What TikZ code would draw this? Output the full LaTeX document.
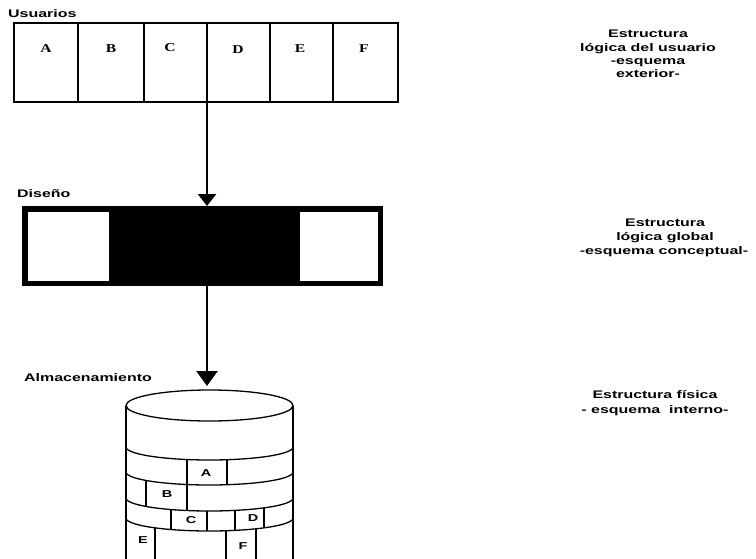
\documentclass[tikz,border=0pt]{standalone}
\usepackage{fontspec}
\usetikzlibrary{arrows.meta}
\newfontfamily\labfam[FakeStretch=1.45]{Liberation Sans}
\newfontfamily\letfam[FakeStretch=1.3]{Liberation Serif}

\tikzset{
  lab/.style={font=\labfam\bfseries\fontsize{11}{13}\selectfont, inner sep=0pt},
  ubox/.style={draw, line width=1.6pt, minimum height=79pt, inner sep=0pt, outer sep=0pt, anchor=north west},
  ulet/.style={font=\letfam\bfseries\fontsize{12}{14}\selectfont, inner sep=0pt},
  clet/.style={font=\labfam\bfseries\fontsize{10}{12}\selectfont, inner sep=0pt},
  plain/.style={inner sep=0pt, outer sep=0pt, anchor=north west},
  cyl/.style={line width=1.3pt},
  flowa/.style={line width=2.6pt, -{Triangle[length=12pt,width=18pt]}},
  flowb/.style={line width=2.6pt, -{Triangle[length=15pt,width=21pt]}},
}

% vertical separator inside a band of the disk: x, upper edge, lower edge
\newcommand\bandseg[3]{%
  \draw[cyl] (#1,{#2+13*sqrt(1-((#1-209.5)/83.5)^2)}) -- (#1,{#3+13*sqrt(1-((#1-209.5)/83.5)^2)});}

\begin{document}
\begin{tikzpicture}[x=1pt,y=-1pt]
\useasboundingbox (0,0) rectangle (756,558);
\clip (0,0) rectangle (756,558);

% ---- user level ----
\node[lab, anchor=base west] (tUsr) at (8,17) {Usuarios};
\node[ubox, minimum width=64pt] (uA) at (14,23) {};
\node[ubox, minimum width=66pt] (uB) at (78,23) {};
\node[ubox, minimum width=63pt] (uC) at (144,23) {};
\node[ubox, minimum width=63pt] (uD) at (207,23) {};
\node[ubox, minimum width=63pt] (uE) at (270,23) {};
\node[ubox, minimum width=65pt] (uF) at (333,23) {};
\node[ulet] (lA) at (46,49) {A};
\node[ulet] (lB) at (111,49) {B};
\node[ulet] (lC) at (170,48) {C};
\node[ulet] (lD) at (238,50) {D};
\node[ulet] (lE) at (300,49) {E};
\node[ulet] (lF) at (364,49) {F};

% ---- design level ----
\node[lab, anchor=base west] (tDis) at (17,197) {Diseño};
\node[plain, fill=black, minimum width=361pt, minimum height=80pt] (dis) at (22,206) {};
\node[plain, fill=white, minimum width=81pt, minimum height=69pt] (disL) at (28,212) {};
\node[plain, fill=white, minimum width=78pt, minimum height=69pt] (disR) at (300,212) {};

% ---- storage level ----
\node[lab, anchor=base west] (tAlm) at (24,381) {Almacenamiento};
\coordinate (cylTop) at (207,386);
\draw[cyl] (209.5,405.5) ellipse [x radius=83.5, y radius=15.5];
\draw[cyl] (126,405.5) -- (126,570) (293,405.5) -- (293,570);
\foreach \ey in {447,472,498,518}
  \draw[cyl] plot[domain=180:0, samples=60, smooth] ({209.5+83.5*cos(\x)}, {\ey+13*sin(\x)});
\bandseg{187}{447}{472} \bandseg{227}{447}{472}
\bandseg{146}{472}{498} \bandseg{187}{472}{498}
\bandseg{171}{498}{518} \bandseg{207}{498}{518} \bandseg{235}{498}{518} \bandseg{264}{498}{518}
\bandseg{155}{518}{570} \bandseg{226}{518}{570} \bandseg{256}{518}{570}
\node[clet] (cA) at (206,473) {A};
\node[clet] (cB) at (167,494) {B};
\node[clet] (cC) at (191,520) {C};
\node[clet] (cD) at (253,518) {D};
\node[clet] (cE) at (143,540) {E};
\node[clet] (cF) at (243,546) {F};

% ---- flow between levels ----
\draw[flowa] (uD.south west) -- (uD.south west |- dis.north);
\draw[flowb] (dis.south -| uD.south west) -- (cylTop);

% ---- descriptions ----
\node[lab, anchor=base] (r1a) at (648,37) {Estructura};
\node[lab, anchor=base] (r1b) at (648,51) {lógica del usuario};
\node[lab, anchor=base] (r1c) at (648,64) {-esquema};
\node[lab, anchor=base] (r1d) at (648,77) {exterior-};
\node[lab, anchor=base] (r2a) at (665,226) {Estructura};
\node[lab, anchor=base] (r2b) at (665,240) {lógica global};
\node[lab, anchor=base] (r2c) at (664,254) {-esquema conceptual-};
\node[lab, anchor=base] (r3a) at (655,398) {Estructura física};
\node[lab, anchor=base] (r3b) at (655,413) {- esquema\ \ interno-};
\end{tikzpicture}
\end{document}
